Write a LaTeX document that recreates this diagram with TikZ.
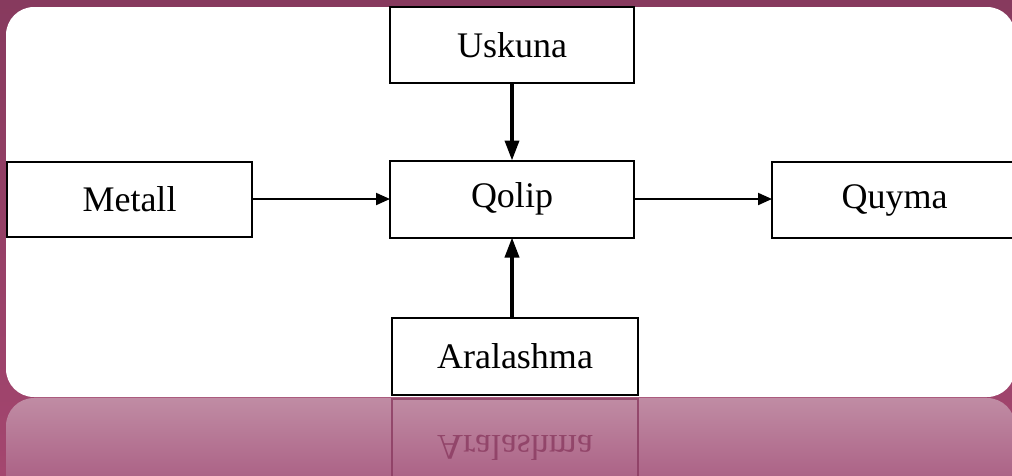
\documentclass[tikz,border=0pt]{standalone}
\usepackage{fontspec}
\setmainfont{Liberation Serif}
\usetikzlibrary{arrows.meta}
\definecolor{bgtop}{HTML}{873A5E}
\definecolor{bgbot}{HTML}{A4466F}
\definecolor{reftop}{HTML}{C08CA4}
\definecolor{refbot}{HTML}{A14C76}
\definecolor{refline}{HTML}{8A3A60}
\begin{document}
\begin{tikzpicture}[x=1pt,y=-1pt,
  blk/.style={draw=black, line width=2pt, fill=white, minimum width=244pt,
    minimum height=76pt, inner sep=0pt, outer sep=0pt,
    font=\fontsize{36}{40}\selectfont},
  flowarrow/.style={line width=2pt, -{Triangle[length=14pt,width=12pt]}},
  heavyarrow/.style={line width=3.6pt, -{Triangle[length=20pt,width=14pt]}},
  mirrortext/.style={text=refline, text opacity=0.8, yscale=-1, transform shape,
    inner sep=0pt, anchor=base, font=\fontsize{36}{40}\selectfont}
]
\useasboundingbox (0,0) rectangle (1012,475);
\clip (0,0) rectangle (1012,475);
% background
\shade[top color=bgtop, bottom color=bgbot] (0,0) rectangle (1012,475);
% reflection panel
\shade[top color=reftop, bottom color=refbot, rounded corners=28pt]
  (6,398) rectangle (1015,520);
% white panel
\fill[white, rounded corners=28pt] (6,7) rectangle (1015,397);
% mirrored reflection of the bottom box
\draw[refline, draw opacity=0.8, line width=2pt] (392,399) rectangle (638,477);
\node[mirrortext] (refl) at (515,435) {Aralashma};
% boxes
\node[blk] (uskuna) at (512,45) {Uskuna};
\node[blk, minimum width=245pt, minimum height=75pt] (metall) at (129.5,199.5) {Metall};
\node[blk, minimum height=77pt] (qolip) at (512,199) {Qolip};
\node[blk, minimum width=245pt] (quyma) at (894.5,200) {Quyma};
\node[blk, minimum width=246pt, minimum height=77pt] (aral) at (515,356.5) {Aralashma};
% connectors
\draw[flowarrow] (metall.east |- qolip.west) -- (qolip.west);
\draw[flowarrow] (qolip.east) -- (qolip.east -| quyma.west);
\draw[heavyarrow] (uskuna.south) -- (qolip.north);
\draw[heavyarrow] (aral.north -| qolip.south) -- (qolip.south);
\end{tikzpicture}
\end{document}
